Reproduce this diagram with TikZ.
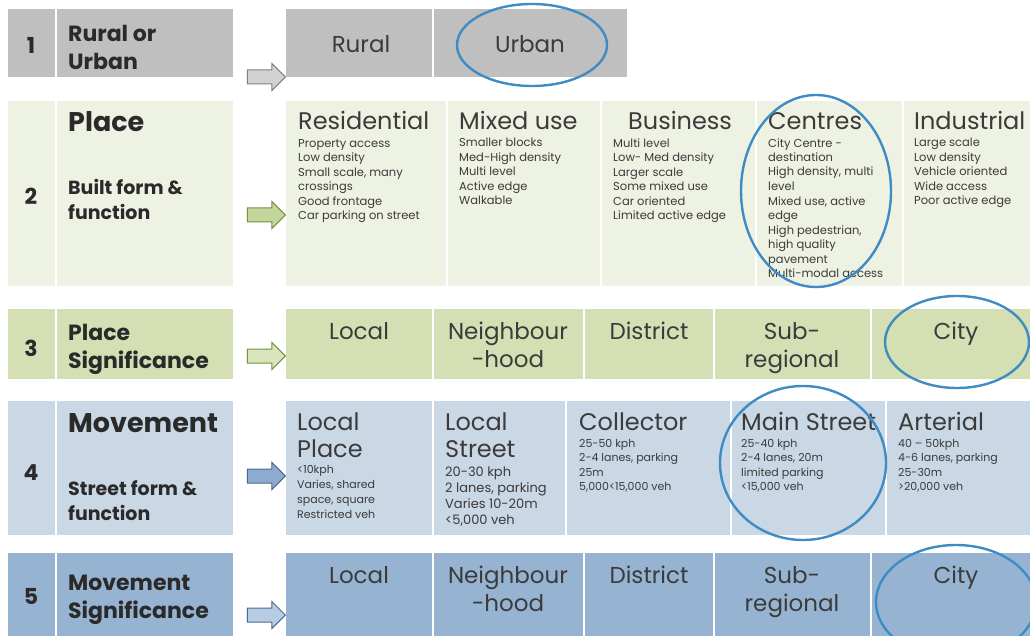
\documentclass[tikz,border=0pt]{standalone}
\usepackage{fontspec}
\setmainfont{Poppins}
\usetikzlibrary{shapes.arrows}
\definecolor{greyA}{HTML}{BFBFBF}
\definecolor{greenA}{HTML}{EEF2E3}
\definecolor{greenB}{HTML}{D4E0B3}
\definecolor{blueA}{HTML}{CAD7E5}
\definecolor{blueB}{HTML}{97B3D2}
\definecolor{ringblue}{HTML}{3E8CC3}
\definecolor{textgrey}{HTML}{3B3B3B}
\definecolor{labgrey}{HTML}{2A2A2A}
\definecolor{arrowfillA}{HTML}{D2D2D2}
\definecolor{arrowfillB}{HTML}{C3D69B}
\definecolor{arrowfillC}{HTML}{D7E4BD}
\definecolor{arrowfillD}{HTML}{8EAACF}
\definecolor{arrowfillE}{HTML}{B8CCE4}
\definecolor{arrowlineA}{HTML}{808080}
\definecolor{arrowlineB}{HTML}{76923C}
\definecolor{arrowlineC}{HTML}{4A6A8F}
\begin{document}
\begin{tikzpicture}[x=1pt,y=-1pt,
    ink/.style={text=textgrey,inner sep=0pt},
    num/.style={text=labgrey,inner sep=0pt,font=\bfseries\fontsize{22}{26}\selectfont,anchor=base},
    lab/.style={text=labgrey,inner sep=0pt,anchor=base west,align=left,font=\bfseries\fontsize{22}{28}\selectfont},
    labbig/.style={lab,font=\bfseries\fontsize{27}{32}\selectfont},
    labsub/.style={lab,font=\bfseries\fontsize{19}{25}\selectfont},
    head/.style={ink,anchor=base west,align=left,font=\fontsize{24}{27}\selectfont},
    mid/.style={ink,anchor=base,align=center,font=\fontsize{23}{28}\selectfont},
    note/.style={ink,anchor=base west,align=left,font=\fontsize{11.5}{14.5}\selectfont},
    ring/.style={draw=ringblue,line width=2.4pt},
    pointer/.style={single arrow,anchor=tip,minimum height=38pt,minimum width=26pt,
        inner sep=6.5pt,single arrow head extend=6.5pt,line width=1pt}]
    \clip (0,0) rectangle (1030,636);
    \foreach \t/\b/\c in {9/77/greyA,101/286/greenA,309/379/greenB,401/535/blueA,553/636/blueB}{
        \fill[\c] (8,\t) rectangle (55,\b);
        \fill[\c] (57,\t) rectangle (233,\b);
    }
    \foreach \l/\r in {286/432,434/627}
        \fill[greyA] (\l,9) rectangle (\r,77);
    \foreach \l/\r in {286/446,448/600,602/755,757/902,904/1030}
        \fill[greenA] (\l,101) rectangle (\r,286);
    \foreach \l/\r in {286/432,434/583,585/713,715/870,872/1030}{
        \fill[greenB] (\l,309) rectangle (\r,379);
        \fill[blueB] (\l,553) rectangle (\r,636);
    }
    \foreach \l/\r in {286/432,434/565,567/730,732/885,887/1030}
        \fill[blueA] (\l,401) rectangle (\r,535);

    \foreach \n/\y in {1/54,2/205,3/356,4/480,5/604}
        \node[num] (num\n) at (31,\y) {\n};
    \node[lab] (rural-urban) at (68,70) {Rural or\\Urban};
    \node[labbig] (place) at (68,132) {Place};
    \node[labsub] (built) at (68,220) {Built form \&\\function};
    \node[lab] (place-sig) at (68,368) {Place\\Significance};
    \node[labbig] (movement) at (68,432) {Movement};
    \node[labsub] (street) at (68,520) {Street form \&\\function};
    \node[lab] (move-sig) at (68,618) {Movement\\Significance};

    \foreach \y/\f/\d [count=\i] in {77/arrowfillA/arrowlineA,215/arrowfillB/arrowlineB,356/arrowfillC/arrowlineB,
        476/arrowfillD/arrowlineC,615/arrowfillE/arrowlineC}
        \node[pointer,fill=\f,draw=\d] (arrow\i) at (286,\y) {};

    \node[mid] (rural) at (361,53) {Rural};
    \node[mid] (urban) at (530,53) {Urban};

    \node[head] (residential) at (298,130) {Residential};
    \node[note] (residential-n) at (298,220) {Property access\\Low density\\Small scale, many\\crossings\\Good frontage\\Car parking on street};
    \node[head] (mixed) at (459,130) {Mixed use};
    \node[note] (mixed-n) at (459,205) {Smaller blocks\\Med-High density\\Multi level\\Active edge\\Walkable};
    \node[head] (business) at (628,130) {Business};
    \node[note] (business-n) at (613,220) {Multi level\\Low- Med density\\Larger scale\\Some mixed use\\Car oriented\\Limited active edge};
    \node[head] (centres) at (768,130) {Centres};
    \node[note] (centres-n) at (768,277.5) {City Centre -\\destination\\High density, multi\\level\\Mixed use, active\\edge\\High pedestrian,\\high quality\\pavement\\Multi-modal access};
    \node[head] (industrial) at (914,130) {Industrial};
    \node[note] (industrial-n) at (914,205) {Large scale\\Low density\\Vehicle oriented\\Wide access\\Poor active edge};

    \foreach \x/\txt/\y [count=\i] in {359/Local/339,508/Neighbour\\-hood/367,649/District/339,
        792/Sub-\\regional/367,956/City/339}{
        \node[mid] (place-sig\i) at (\x,\y) {\txt};
        \node[mid] (move-sig\i) at (\x,{\y+244}) {\txt};
    }

    \node[head] (local-place) at (297,457) {Local\\Place};
    \node[note,font=\fontsize{11}{14.7}\selectfont] (local-place-n) at (297,518) {<10kph\\Varies, shared\\space, square\\Restricted veh};
    \node[head] (local-street) at (445,457) {Local\\Street};
    \node[note,font=\fontsize{13}{16}\selectfont] (local-street-n) at (445,524) {20-30 kph\\2 lanes, parking\\Varies 10-20m\\<5,000 veh};
    \node[head] (collector) at (579,430) {Collector};
    \node[note,font=\fontsize{11}{14.5}\selectfont] (collector-n) at (579,490.5) {25-50 kph\\2-4 lanes, parking\\25m\\5,000<15,000 veh};
    \node[head] (main-street) at (741,430) {Main Street};
    \node[note,font=\fontsize{11}{14.5}\selectfont] (main-street-n) at (741,490.5) {25-40 kph\\2-4 lanes, 20m\\limited parking\\<15,000 veh};
    \node[head] (arterial) at (898,430) {Arterial};
    \node[note,font=\fontsize{11}{14.5}\selectfont] (arterial-n) at (898,490.5) {40 -- 50kph\\4-6 lanes, parking\\25-30m\\>20,000 veh};

    \draw[ring] (532,45) ellipse [x radius=75, y radius=41];
    \draw[ring] (816,191) ellipse [x radius=75, y radius=96];
    \draw[ring] (957,342) ellipse [x radius=72, y radius=46];
    \draw[ring] (803,463) ellipse [x radius=83, y radius=77];
    \draw[ring] (956,602) ellipse [x radius=80, y radius=57];
\end{tikzpicture}
\end{document}
